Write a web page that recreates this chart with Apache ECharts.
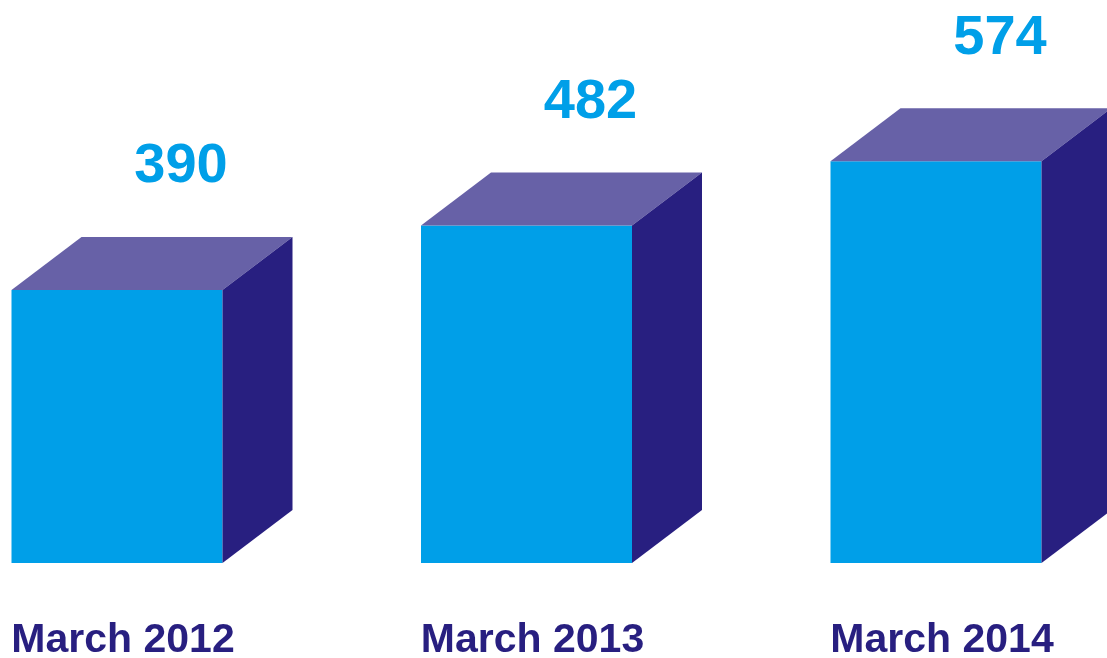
<!DOCTYPE html>
<html>
<head>
<meta charset="utf-8">
<script src="https://cdn.jsdelivr.net/npm/echarts@6/dist/echarts.min.js"></script>
<style>
  html, body { margin: 0; padding: 0; background: #fff; }
  #chart { width: 1107px; height: 658px; }
</style>
</head>
<body>
<div id="chart"></div>
<script>
var categories = ['March 2012', 'March 2013', 'March 2014']
var values = [390, 482, 574]

var myChart = echarts.init(document.getElementById('chart'))

// 3D box: front face, top face, right side
var barWidth = 211
var depthX = 70
var depthY = 53

function renderBox(params, api) {
  var top = api.coord([api.value(0), api.value(1)])
  var base = api.coord([api.value(0), 0])
  var x0 = top[0] - barWidth / 2
  var x1 = top[0] + barWidth / 2
  var yt = top[1]
  var yb = base[1]
  return {
    type: 'group',
    children: [
      {
        type: 'rect',
        shape: { x: x0, y: yt, width: barWidth, height: yb - yt },
        style: { fill: '#009FE8' }
      },
      {
        type: 'polygon',
        shape: { points: [[x0, yt], [x0 + depthX, yt - depthY], [x1 + depthX, yt - depthY], [x1, yt]] },
        style: { fill: '#6761A7' }
      },
      {
        type: 'polygon',
        shape: { points: [[x1, yt], [x1 + depthX, yt - depthY], [x1 + depthX, yb - depthY], [x1, yb]] },
        style: { fill: '#281F80' }
      },
      {
        type: 'text',
        x: top[0] + 64,
        y: yt - depthY - 70,
        style: {
          text: String(api.value(1)),
          fill: '#009FE8',
          font: 'bold 56px "Liberation Sans", Arial, sans-serif',
          align: 'center',
          verticalAlign: 'middle'
        }
      }
    ]
  }
}

var option = {
  animation: false,
  grid: {
    left: 117,
    right: 1107 - 936,
    top: 3,
    bottom: 95,
    outerBoundsMode: 'none'
  },
  xAxis: {
    type: 'category',
    data: categories,
    boundaryGap: false,
    axisLine: { show: false },
    axisTick: { show: false },
    axisLabel: {
      color: '#281F80',
      fontFamily: '"Liberation Sans", Arial, sans-serif',
      fontWeight: 'bold',
      fontSize: 41,
      lineHeight: 41,
      margin: 57,
      padding: [0, 0, 0, 12]
    }
  },
  yAxis: {
    type: 'value',
    min: 0,
    max: 800,
    show: false,
    splitLine: { show: false }
  },
  series: [
    {
      type: 'custom',
      renderItem: renderBox,
      clip: false,
      data: values.map(function (v, i) { return [i, v] })
    }
  ]
}

myChart.setOption(option)
</script>
</body>
</html>
